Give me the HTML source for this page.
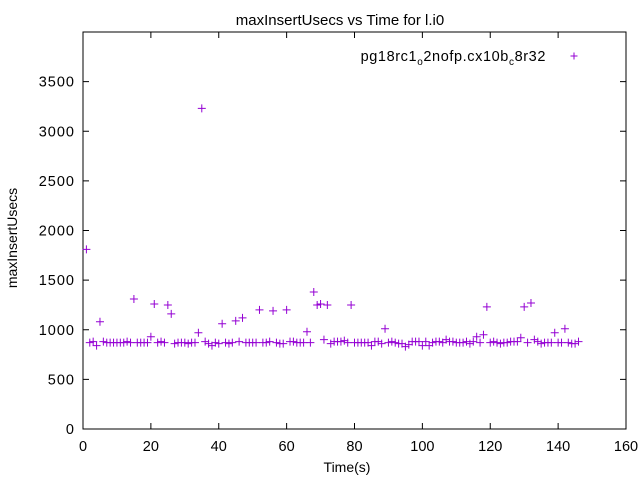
<!DOCTYPE html>
<html><head><meta charset="utf-8"><style>
body{margin:0;background:#fff}
svg{display:block;font-family:"Liberation Sans",sans-serif}
</style></head><body>
<svg id="chart" width="640" height="480">
<text x="340" y="25" text-anchor="middle" font-size="15">maxInsertUsecs vs Time for l.i0</text>
<text x="17" y="238" text-anchor="middle" font-size="14" transform="rotate(-90 17 238)">maxInsertUsecs</text>
<text x="347" y="472" text-anchor="middle" font-size="14">Time(s)</text>
<rect x="83" y="32" width="543" height="397" fill="none" stroke="#000" stroke-width="1"/>
<g id="axes"></g>
<g id="marks"></g>
<g>
<text x="546" y="61" text-anchor="end" font-size="14.5" letter-spacing="0.6">pg18rc1<tspan font-size="10" dy="4">o</tspan><tspan dy="-4">2nofp.cx10b</tspan><tspan font-size="10" dy="4">c</tspan><tspan dy="-4">8r32</tspan></text>
<path d="M570.5 56h7M574 52.5v7" stroke="#9400d3" stroke-width="1"/>
</g>
</svg>
<script>
const xTicks=[0,20,40,60,80,100,120,140,160];
const yTicks=[0,500,1000,1500,2000,2500,3000,3500];
const times=[];
for(let i=1;i<=146;i++)times.push(i);
const values=[1810,870,880,840,1080,880,870,870,870,870,870,870,880,870,1310,870,870,870,870,930,1260,870,880,870,1250,1160,860,870,870,870,860,870,870,970,3230,880,860,840,870,860,1060,870,860,870,1090,880,1120,870,870,870,870,1200,870,870,880,1190,870,860,860,1200,880,880,870,870,870,980,870,1380,1250,1260,900,1250,860,880,880,880,890,870,1250,870,870,870,870,870,840,880,880,860,1010,870,880,870,860,860,830,850,880,880,880,840,880,840,870,880,880,870,900,880,880,870,870,870,880,860,880,930,870,950,1230,870,880,870,860,870,870,880,880,880,920,1230,870,1270,900,880,860,870,870,870,970,870,870,1010,870,860,860,880];
const X=v=>83+v*543/160, Y=v=>429-v*397/4000;
const NS="http://www.w3.org/2000/svg";
const axes=document.getElementById('axes'), marks=document.getElementById('marks');
function mk(t,a,p){const e=document.createElementNS(NS,t);for(const k in a)e.setAttribute(k,a[k]);p.appendChild(e);return e;}
xTicks.forEach(t=>{const x=X(t);
 const l=mk('path',{d:`M${x} 429v-6M${x} 32v6`,stroke:'#000'},axes);
 
 
 const s=mk('text',{x:x,y:451,'text-anchor':'middle','font-size':14.5},axes);s.textContent=t;
 
 });
yTicks.forEach(t=>{const y=Y(t);
 const l=mk('path',{d:`M83 ${y}h6M626 ${y}h-6`,stroke:'#000'},axes);
 
 
 const s=mk('text',{x:75,y:y+5,'text-anchor':'end','font-size':14.5,'letter-spacing':1},axes);s.textContent=t;
 
 });
values.forEach((v,i)=>{const x=X(times[i]),y=Y(v);
 const p=mk('path',{d:`M${x-4} ${y}h8M${x} ${y-4}v8`,stroke:'#9400d3','stroke-width':1},marks);
 
 });
</script>
</body></html>
